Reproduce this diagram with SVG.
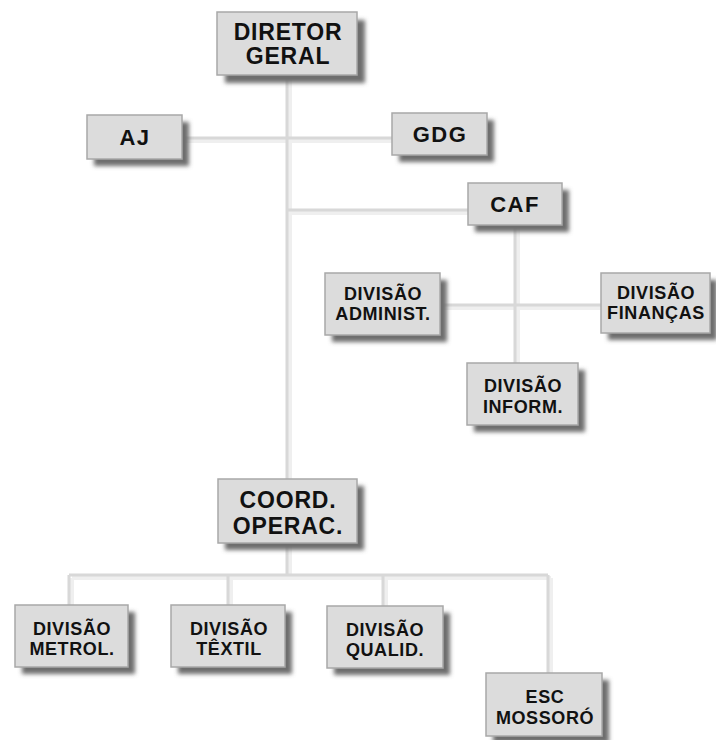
<svg xmlns="http://www.w3.org/2000/svg" width="716" height="740" viewBox="0 0 716 740">
<defs>
<filter id="sh" x="-20%" y="-20%" width="150%" height="160%">
<feGaussianBlur stdDeviation="2"/>
</filter>
<style>
.box{fill:#dcdcdc;stroke:#a8a8a8;stroke-width:1.5}
.shadow{fill:#6e6e6e;filter:url(#sh)}
.t{font-family:"Liberation Sans",Arial,sans-serif;font-weight:bold;fill:#111;text-anchor:middle}
.big{font-size:23px;letter-spacing:0.8px}
.mid{font-size:22px;letter-spacing:1.5px}
.sm{font-size:18px;letter-spacing:0.6px}
.ln{stroke:#d8d8d8;stroke-width:3;fill:none}
.lns{stroke:#efefef;stroke-width:4;fill:none}
</style>
</defs>
<rect width="716" height="740" fill="#ffffff"/>
<g id="connectors">
<g transform="translate(3,3)">
<path class="lns" d="M287 75V479M182 138H392M287 210H468M515 225V363M440 305H601M287 543V575M69 575H548M69 575V605M228 575V605M383 575V606M548 575V673"/>
</g>
<path class="ln" d="M287 75V479M182 138H392M287 210H468M515 225V363M440 305H601M287 543V575M69 575H548M69 575V605M228 575V605M383 575V606M548 575V673"/>
</g>
<g id="diretor">
<rect class="shadow" x="225" y="20" width="140" height="63"/>
<rect class="box" x="217" y="12" width="140" height="63"/>
<text class="t big" x="288" y="40">DIRETOR</text>
<text class="t big" x="288" y="64">GERAL</text>
</g>
<g id="aj">
<rect class="shadow" x="94" y="122" width="95" height="44"/>
<rect class="box" x="87" y="115" width="95" height="44"/>
<text class="t mid" x="135" y="145">AJ</text>
</g>
<g id="gdg">
<rect class="shadow" x="399" y="120" width="95" height="42"/>
<rect class="box" x="392" y="113" width="95" height="42"/>
<text class="t mid" x="440" y="142">GDG</text>
</g>
<g id="caf">
<rect class="shadow" x="475" y="190" width="94" height="42"/>
<rect class="box" x="468" y="183" width="94" height="42"/>
<text class="t mid" x="515" y="212">CAF</text>
</g>
<g id="adminis">
<rect class="shadow" x="332" y="280" width="115" height="62"/>
<rect class="box" x="325" y="273" width="115" height="62"/>
<text class="t sm" x="383" y="300">DIVISÃO</text>
<text class="t sm" x="383" y="320">ADMINIST.</text>
</g>
<g id="financas">
<rect class="shadow" x="608" y="280" width="109" height="60"/>
<rect class="box" x="601" y="273" width="109" height="60"/>
<text class="t sm" x="656" y="299">DIVISÃO</text>
<text class="t sm" x="656" y="319">FINANÇAS</text>
</g>
<g id="inform">
<rect class="shadow" x="474" y="370" width="111" height="62"/>
<rect class="box" x="467" y="363" width="111" height="62"/>
<text class="t sm" x="523" y="392">DIVISÃO</text>
<text class="t sm" x="523" y="413">INFORM.</text>
</g>
<g id="coord">
<rect class="shadow" x="225" y="486" width="139" height="64"/>
<rect class="box" x="218" y="479" width="139" height="64"/>
<text class="t big" x="288" y="508">COORD.</text>
<text class="t big" x="288" y="534">OPERAC.</text>
</g>
<g id="metrol">
<rect class="shadow" x="22" y="612" width="113" height="62"/>
<rect class="box" x="15" y="605" width="113" height="62"/>
<text class="t sm" x="72" y="635">DIVISÃO</text>
<text class="t sm" x="72" y="655">METROL.</text>
</g>
<g id="textil">
<rect class="shadow" x="178" y="612" width="114" height="62"/>
<rect class="box" x="171" y="605" width="114" height="62"/>
<text class="t sm" x="229" y="635">DIVISÃO</text>
<text class="t sm" x="229" y="655">TÊXTIL</text>
</g>
<g id="qualid">
<rect class="shadow" x="334" y="613" width="116" height="62"/>
<rect class="box" x="327" y="606" width="116" height="62"/>
<text class="t sm" x="385" y="636">DIVISÃO</text>
<text class="t sm" x="385" y="656">QUALID.</text>
</g>
<g id="esc">
<rect class="shadow" x="493" y="680" width="116" height="63"/>
<rect class="box" x="486" y="673" width="116" height="63"/>
<text class="t sm" x="545" y="703">ESC</text>
<text class="t sm" x="545" y="724">MOSSORÓ</text>
</g>
</svg>
